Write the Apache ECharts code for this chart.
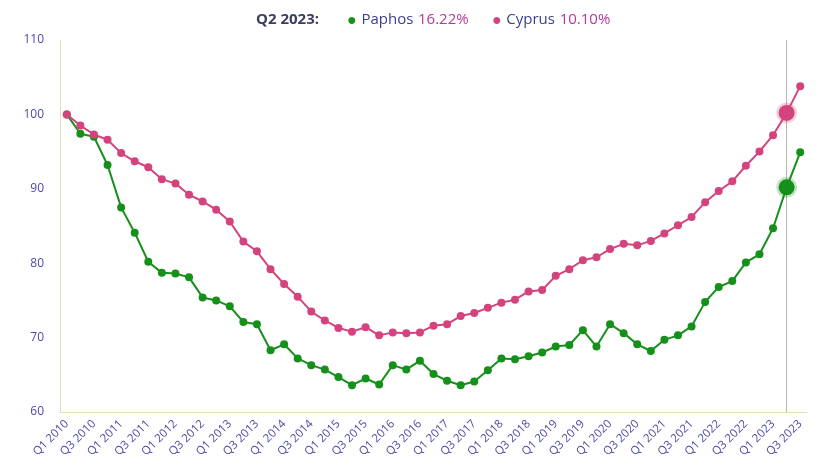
<!DOCTYPE html>
<html>
<head>
<meta charset="utf-8">
<script src="https://cdn.jsdelivr.net/npm/echarts@6/dist/echarts.min.js"></script>
<style>html,body{margin:0;padding:0;background:#fff}#c{width:833px;height:476px}</style>
</head>
<body>
<div id="c"></div>
<script>
const categories = ['Q1 2010','Q2 2010','Q3 2010','Q4 2010','Q1 2011','Q2 2011','Q3 2011','Q4 2011',
'Q1 2012','Q2 2012','Q3 2012','Q4 2012','Q1 2013','Q2 2013','Q3 2013','Q4 2013',
'Q1 2014','Q2 2014','Q3 2014','Q4 2014','Q1 2015','Q2 2015','Q3 2015','Q4 2015',
'Q1 2016','Q2 2016','Q3 2016','Q4 2016','Q1 2017','Q2 2017','Q3 2017','Q4 2017',
'Q1 2018','Q2 2018','Q3 2018','Q4 2018','Q1 2019','Q2 2019','Q3 2019','Q4 2019',
'Q1 2020','Q2 2020','Q3 2020','Q4 2020','Q1 2021','Q2 2021','Q3 2021','Q4 2021',
'Q1 2022','Q2 2022','Q3 2022','Q4 2022','Q1 2023','Q2 2023','Q3 2023'];
const paphos = [100,97.4,97.0,93.2,87.5,84.1,80.2,78.7,78.6,78.1,75.4,75.0,74.2,72.1,71.8,68.3,
69.1,67.2,66.3,65.7,64.7,63.6,64.5,63.7,66.3,65.7,66.9,65.1,64.2,63.6,64.1,65.6,
67.2,67.1,67.5,68.0,68.8,69.0,71.0,68.8,71.8,70.6,69.1,68.2,69.7,70.3,71.5,74.8,
76.8,77.6,80.1,81.2,84.7,90.2,94.9];
const cyprus = [100,98.5,97.3,96.6,94.8,93.7,92.9,91.3,90.7,89.2,88.3,87.2,85.6,82.9,81.6,79.2,
77.2,75.5,73.5,72.3,71.3,70.8,71.4,70.3,70.7,70.6,70.7,71.6,71.8,72.9,73.3,74.0,
74.7,75.1,76.2,76.4,78.3,79.2,80.4,80.8,81.9,82.6,82.4,83.0,84.0,85.1,86.2,88.2,
89.7,91.0,93.1,95.0,97.2,100.2,103.8];
const seriesNames = ['Paphos','Cyprus'];
const changeLabels = ['16.22%','10.10%'];
const focusQuarter = 'Q2 2023';
const yTicks = [60,70,80,90,100,110];

const GREEN = '#15901a', PINK = '#d5437e';
const FONT = '"Open Sans", "Noto Sans", sans-serif';
const focusIdx = categories.indexOf(focusQuarter);

function build(values, color, halo) {
  return values.map((v, i) => i === focusIdx ? {
    value: v, symbolSize: 16,
    itemStyle: { color: color, borderColor: halo, borderWidth: 5 }
  } : v);
}

const chart = echarts.init(document.getElementById('c'));
chart.setOption({
  animation: false,
  textStyle: { fontFamily: FONT },
  title: {
    left: 251, top: 6,
    text: '{t|' + focusQuarter + ':}      {g|●} {n|' + seriesNames[0] + '} {p|' + changeLabels[0] +
          '}     {c|●} {n|' + seriesNames[1] + '} {p|' + changeLabels[1] + '}',
    textStyle: {
      fontWeight: 'normal',
      rich: {
        t: { fontSize: 15, fontWeight: 'bold', color: '#3b3f5e', fontFamily: FONT },
        g: { fontSize: 16, fontWeight: 'normal', color: GREEN, fontFamily: FONT },
        c: { fontSize: 16, fontWeight: 'normal', color: PINK, fontFamily: FONT },
        n: { fontSize: 15, fontWeight: 'normal', color: '#3a3f8c', fontFamily: FONT },
        p: { fontSize: 15, fontWeight: 'normal', color: '#b5399c', fontFamily: FONT }
      }
    }
  },
  grid: { left: 60, right: 26, top: 40, bottom: 64 },
  xAxis: {
    type: 'category', data: categories, boundaryGap: true,
    axisLine: { lineStyle: { color: '#dfe3b4' } },
    axisTick: { alignWithLabel: true, interval: 1, length: 9, lineStyle: { color: '#dfe3b4' } },
    axisLabel: { interval: 1, rotate: 45, color: '#4a4aa6', fontSize: 11.5, margin: 10, fontFamily: FONT },
    splitLine: { show: false }
  },
  yAxis: {
    type: 'value', min: yTicks[0], max: yTicks[yTicks.length - 1], interval: 10,
    axisLine: { show: true, lineStyle: { color: '#dfe3b4' } },
    axisTick: { show: false },
    axisLabel: { color: '#4a4aa6', fontSize: 12, margin: 16, fontFamily: FONT },
    splitLine: { show: false }
  },
  series: [
    {
      name: seriesNames[0], type: 'line', data: build(paphos, GREEN, 'rgba(21,144,26,0.25)'),
      symbol: 'circle', symbolSize: 8, showAllSymbol: true,
      itemStyle: { color: GREEN }, lineStyle: { color: GREEN, width: 2 }, z: 3
    },
    {
      name: seriesNames[1], type: 'line', data: build(cyprus, PINK, 'rgba(213,67,126,0.25)'),
      symbol: 'circle', symbolSize: 8, showAllSymbol: true,
      itemStyle: { color: PINK }, lineStyle: { color: PINK, width: 2 }, z: 3,
      markLine: {
        silent: true, symbol: 'none', z: 1,
        label: { show: false },
        lineStyle: { color: '#b4b4b4', width: 1, type: 'solid' },
        data: [{ xAxis: focusQuarter }]
      }
    }
  ]
});
</script>
</body>
</html>
